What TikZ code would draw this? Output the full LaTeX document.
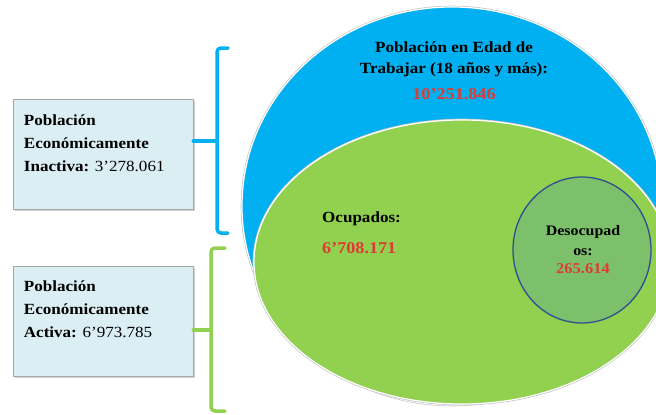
\documentclass[tikz,border=0pt]{standalone}
\usepackage{fontspec}
\setmainfont[FakeStretch=1.1]{Liberation Serif}
\usetikzlibrary{shapes.geometric, positioning, shadows}

\definecolor{petblue}{HTML}{00B0F0}
\definecolor{peagreen}{HTML}{92D050}
\definecolor{desgreen}{HTML}{7CC06C}
\definecolor{desblue}{HTML}{2E4F92}
\definecolor{boxfill}{HTML}{DAEEF3}
\definecolor{numred}{HTML}{E03A34}

\begin{document}
\begin{tikzpicture}[x=1pt, y=-1pt, node distance=56pt,
    set/.style={ellipse, inner sep=0pt, draw=white, line width=1.2pt,
      preaction={draw=black!22, line width=2.6pt}},
    infobox/.style={rectangle, fill=boxfill, draw=black!35, line width=0.6pt,
      minimum width=180pt, minimum height=110pt,
      drop shadow={shadow xshift=1.5pt, shadow yshift=-1.5pt, opacity=0.35}},
    boxtext/.style={anchor=north west, align=left, inner sep=0pt,
      font=\fontsize{15.5}{23}\selectfont},
    title/.style={align=center, inner sep=0pt, font=\bfseries\fontsize{15.5}{21}\selectfont},
    num/.style={inner sep=0pt, text=numred, font=\bfseries\fontsize{16.5}{21}\selectfont},
    bracket/.style={line width=3.5pt, rounded corners=4pt, line cap=round}]
  \useasboundingbox (0,0) rectangle (656,415);

  % sets
  \node[set, fill=petblue, minimum width=420pt, minimum height=398pt] (pet) at (452,206) {};
  \node[set, fill=peagreen, minimum width=416pt, minimum height=284pt] (pea) at (462,262) {};
  \node[ellipse, inner sep=0pt, fill=desgreen, draw=desblue, line width=1.3pt,
    minimum width=138pt, minimum height=146pt] (des) at (582,250) {};

  \node[title] (petlabel) at (454,59) {Población en Edad de\\Trabajar (18 años y más):};
  \node[num, below=12pt of petlabel] (petnum) {10'251.846};

  \node[title, anchor=west] (ocup) at (322,219) {Ocupados:};
  \node[num, anchor=west] (ocupnum) at (322,248) {6'708.171};

  \node[title, font=\bfseries\fontsize{14.5}{20}\selectfont] (deslabel) at (583,240.5) {Desocupad\\os:};
  \node[num, font=\bfseries\fontsize{15}{20}\selectfont, below=8pt of deslabel] (desnum) {265.614};

  % boxes
  \node[infobox] (pei) at (103,154.5) {};
  \node[infobox, below=of pei] (peabox) {};
  \node[boxtext] (peitext) at ([xshift=11pt, yshift=-15pt]pei.north west)
    {\textbf{Población}\\\textbf{Económicamente}\\\textbf{Inactiva:} 3'278.061};
  \node[boxtext] (peatext) at ([xshift=11pt, yshift=-15pt]peabox.north west)
    {\textbf{Población}\\\textbf{Económicamente}\\\textbf{Activa:} 6'973.785};

  % brackets
  \coordinate (bitop) at (228,48);
  \coordinate (bi) at (217,141);
  \coordinate (bibot) at (228,233);
  \coordinate (batop) at (225,248);
  \coordinate (ba) at (211,330);
  \coordinate (babot) at (225,411);
  \draw[bracket, petblue] (bitop) -| (bi) |- (bibot);
  \draw[bracket, petblue, rounded corners=0pt] (bi -| pei.east) -- (bi);
  \draw[bracket, peagreen] (batop) -| (ba) |- (babot);
  \draw[bracket, peagreen, rounded corners=0pt] (ba -| peabox.east) -- (ba);
\end{tikzpicture}
\end{document}
